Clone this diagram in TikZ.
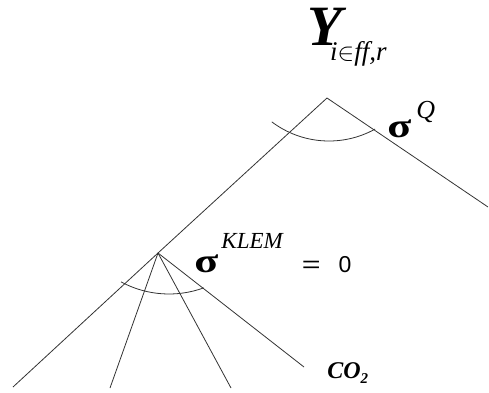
\documentclass[tikz,border=0pt]{standalone}
\usepackage{fontspec}
\usepackage{graphicx}
\setmainfont{Liberation Serif}
\newfontfamily\plainsans{Liberation Sans}
\usepackage{tikz}

\begin{document}
\begin{tikzpicture}[x=1pt, y=-1pt, thick, line width=0.8pt, draw=black!80]
            \useasboundingbox (0,0) rectangle (489,392);

            \node[anchor=base west, inner sep=0] (Yeff) at (307,45)
                {\fontsize{57}{57}\selectfont\bfseries\itshape Y\kern-12pt\raisebox{-15pt}{\fontsize{27}{27}\selectfont\mdseries i$\in$ff,r}};
            \node[anchor=base west, inner sep=0] (sigQ) at (387,137)
                {\fontsize{34}{34}\selectfont\bfseries\scalebox{1.3}[1]{σ}\kern5pt\raisebox{19pt}{\fontsize{26}{26}\selectfont\mdseries\itshape Q}};
            \node[anchor=base west, inner sep=0] (sigKLEM) at (194,272)
                {\fontsize{34}{34}\selectfont\bfseries\scalebox{1.3}[1]{σ}\kern3pt\raisebox{24pt}{\fontsize{23}{23}\selectfont\mdseries\itshape KLEM}\kern19pt\raisebox{0pt}{\fontsize{23}{23}\selectfont\mdseries\upshape\plainsans\scalebox{1.4}[1]{=}\kern18pt 0}};
            \node[anchor=base west, inner sep=0] (co2) at (327,378)
                {\fontsize{24}{24}\selectfont\bfseries\itshape CO\raisebox{-5pt}{\fontsize{15}{15}\selectfont 2}};

            \coordinate (T) at (327,98);
            \coordinate (K) at (158,253);
            \coordinate (R) at (488,207);
            \coordinate (L) at (13,387);
            \coordinate (K1) at (110,388);
            \coordinate (K2) at (231,388);
            \coordinate (K3) at (304,367);

            \draw (T) -- (K);
            \draw (T) -- (R);
            \draw (K) -- (L);
            \draw (K) -- (K1);
            \draw (K) -- (K2);
            \draw (K) -- (K3);

            \draw (329,46) ++(127:95) arc[start angle=127, end angle=61, radius=95];
            \draw (169,193) ++(118.4:101) arc[start angle=118.4, end angle=69.9, radius=101];
        \end{tikzpicture}
\end{document}
